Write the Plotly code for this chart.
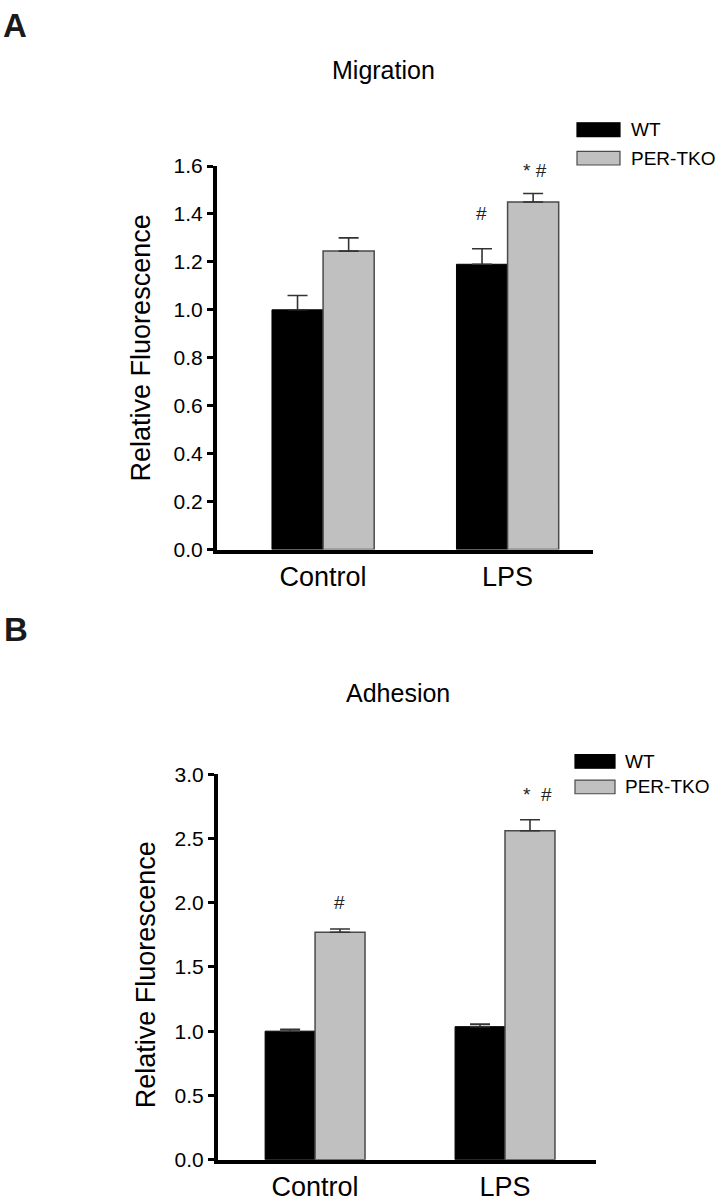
import plotly.graph_objects as go

W, H = 717, 1204

categories = ["Control", "LPS"]
series_names = ["WT", "PER-TKO"]

# Panel A: Migration
mig_wt = [1.00, 1.19]
mig_wt_err = [0.06, 0.065]
mig_tko = [1.245, 1.45]
mig_tko_err = [0.055, 0.035]

# Panel B: Adhesion
adh_wt = [1.00, 1.035]
adh_wt_err = [0.015, 0.02]
adh_tko = [1.77, 2.56]
adh_tko_err = [0.025, 0.085]

mig_ticks = [0.0, 0.2, 0.4, 0.6, 0.8, 1.0, 1.2, 1.4, 1.6]
adh_ticks = [0.0, 0.5, 1.0, 1.5, 2.0, 2.5, 3.0]

FONT = "Arial, Liberation Sans, sans-serif"
WT_COLOR = "#000000"
TKO_COLOR = "#c0c0c0"
TKO_LINE = "#4a4a4a"
ERR_COLOR = "#333333"


def px(x):
    return x / W


def py(y):
    return 1 - y / H


fig = go.Figure()


def add_bars(vals_wt, err_wt, vals_tko, err_tko, xa, ya, bw):
    fig.add_trace(go.Bar(
        x=categories, y=vals_wt, name=series_names[0], xaxis=xa, yaxis=ya,
        width=bw, offset=-bw,
        marker=dict(color=WT_COLOR, line=dict(color=WT_COLOR, width=1)),
        error_y=dict(type="data", symmetric=False, array=err_wt,
                     arrayminus=[0] * len(err_wt), color=ERR_COLOR,
                     thickness=1.6, width=10),
        showlegend=False,
    ))
    fig.add_trace(go.Bar(
        x=categories, y=vals_tko, name=series_names[1], xaxis=xa, yaxis=ya,
        width=bw, offset=0,
        marker=dict(color=TKO_COLOR, line=dict(color=TKO_LINE, width=1.5)),
        error_y=dict(type="data", symmetric=False, array=err_tko,
                     arrayminus=[0] * len(err_tko), color=ERR_COLOR,
                     thickness=1.6, width=10),
        showlegend=False,
    ))


add_bars(mig_wt, mig_wt_err, mig_tko, mig_tko_err, "x", "y", 0.277)
add_bars(adh_wt, adh_wt_err, adh_tko, adh_tko_err, "x2", "y2", 0.263)

axis_common = dict(showline=True, linecolor="black", linewidth=4,
                   showgrid=False, zeroline=False)

fig.update_layout(
    width=W, height=H,
    margin=dict(l=0, r=0, t=0, b=0),
    paper_bgcolor="white", plot_bgcolor="white",
    barmode="overlay",
    hovermode=False,
    font=dict(family=FONT, color="black"),
    xaxis=dict(domain=[px(217), px(593)], anchor="y", type="category",
               range=[-0.575, 1.463], ticks="",
               tickfont=dict(size=27), **axis_common),
    yaxis=dict(domain=[py(548), py(157)], anchor="x", range=[0, 1.6],
               tickvals=mig_ticks, tickformat=".1f", ticks="outside",
               ticklen=6, tickwidth=3, tickcolor="black",
               tickfont=dict(size=21), **axis_common),
    xaxis2=dict(domain=[px(218), px(596)], anchor="y2", type="category",
                range=[-0.511, 1.479], ticks="",
                tickfont=dict(size=27), **axis_common),
    yaxis2=dict(domain=[py(1170), py(777)], anchor="x2", range=[0, 3.0],
                tickvals=adh_ticks, tickformat=".1f", ticks="outside",
                ticklen=6, tickwidth=3, tickcolor="black",
                tickfont=dict(size=21), **axis_common),
)

ann = []
shapes = []

# Panel letters
ann.append(dict(text="<b>A</b>", x=px(1), y=py(-7), xref="paper", yref="paper",
                xanchor="left", yanchor="top", showarrow=False,
                font=dict(size=33, color="#1a1a1a")))
ann.append(dict(text="<b>B</b>", x=px(2), y=py(609), xref="paper", yref="paper",
                xanchor="left", yanchor="top", showarrow=False,
                font=dict(size=33, color="#1a1a1a")))

# Titles
ann.append(dict(text="Migration", x=px(383), y=py(59), xref="paper", yref="paper",
                xanchor="center", yanchor="middle", showarrow=False,
                font=dict(size=25)))
ann.append(dict(text="Adhesion", x=px(398), y=py(694), xref="paper", yref="paper",
                xanchor="center", yanchor="middle", showarrow=False,
                font=dict(size=25)))

# Y axis titles
ann.append(dict(text="Relative Fluorescence", x=px(141), y=py(343),
                xref="paper", yref="paper", textangle=-90,
                xanchor="center", yanchor="middle", showarrow=False,
                font=dict(size=27)))
ann.append(dict(text="Relative Fluorescence", x=px(146), y=py(982),
                xref="paper", yref="paper", textangle=-90,
                xanchor="center", yanchor="middle", showarrow=False,
                font=dict(size=27)))

# Significance markers
ann.append(dict(text="#", x="LPS", xref="x", y=1.40, yref="y", xshift=-26,
                showarrow=False, font=dict(size=19, color="#222")))
ann.append(dict(text="* #", x="LPS", xref="x", y=1.58, yref="y", xshift=27,
                showarrow=False, font=dict(size=19, color="#222")))
ann.append(dict(text="#", x="Control", xref="x2", y=2.0, yref="y2", xshift=24,
                showarrow=False, font=dict(size=19, color="#222")))
ann.append(dict(text="*  #", x="LPS", xref="x2", y=2.84, yref="y2", xshift=32,
                showarrow=False, font=dict(size=19, color="#222")))


# Legends (drawn manually to match the wide swatches)
def legend(x0, x1, y_wt, y_tko, tx):
    for (yc, name, fill, line) in [(y_wt, series_names[0], WT_COLOR, WT_COLOR),
                                   (y_tko, series_names[1], TKO_COLOR, TKO_LINE)]:
        shapes.append(dict(type="rect", xref="paper", yref="paper",
                           x0=px(x0), x1=px(x1), y0=py(yc - 7), y1=py(yc + 7),
                           fillcolor=fill, line=dict(color=line, width=1.2)))
        ann.append(dict(text=name, x=px(tx), y=py(yc), xref="paper", yref="paper",
                        xanchor="left", yanchor="middle", showarrow=False,
                        font=dict(size=19)))


legend(577, 620, 120, 149, 629)
legend(575, 615, 764, 790, 623)

fig.update_layout(annotations=ann, shapes=shapes)

fig.write_html(
    "out.html",
    config={"displayModeBar": False, "staticPlot": True},
    post_script="document.body.style.margin='0';document.body.style.overflow='hidden';",
)
